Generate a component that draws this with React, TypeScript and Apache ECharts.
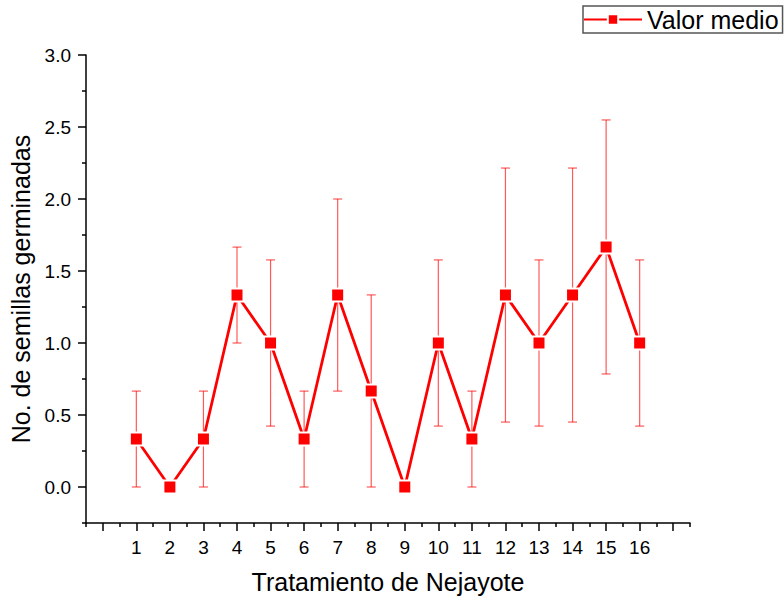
import React, { useEffect, useRef } from "react";
import * as echarts from "echarts";

// Treatment numbers on the x axis
const treatments = [1, 2, 3, 4, 5, 6, 7, 8, 9, 10, 11, 12, 13, 14, 15, 16];
// Mean number of germinated seeds per treatment
const meanValues = [0.333, 0, 0.333, 1.333, 1.0, 0.333, 1.333, 0.667, 0, 1.0, 0.333, 1.333, 1.0, 1.333, 1.667, 1.0];
// Standard error of each mean (symmetric error bars)
const errorValues = [0.333, 0, 0.333, 0.333, 0.577, 0.333, 0.667, 0.667, 0, 0.577, 0.333, 0.882, 0.577, 0.882, 0.882, 0.577];

// Axis ticks
const xMajorTicks = [0, 1, 2, 3, 4, 5, 6, 7, 8, 9, 10, 11, 12, 13, 14, 15, 16, 17];
const xMinorTicks = [-0.5, 0.5, 1.5, 2.5, 3.5, 4.5, 5.5, 6.5, 7.5, 8.5, 9.5, 10.5, 11.5, 12.5, 13.5, 14.5, 15.5, 16.5, 17.5];
const xTickLabels = treatments;
const yMajorTicks = [0, 0.5, 1.0, 1.5, 2.0, 2.5, 3.0];
const yMinorTicks = [-0.25, 0.25, 0.75, 1.25, 1.75, 2.25, 2.75];

const FONT = '"Liberation Sans", Arial, sans-serif';
const RED = "#ff0000";

export default function App() {
  const ref = useRef<HTMLDivElement>(null);

  useEffect(() => {
    if (!ref.current) return;
    const chart = echarts.init(ref.current, null, { renderer: "svg" });

    const lineData = treatments.map((t, i) => [t, meanValues[i]]);
    const errData = treatments.map((t, i) => [t, meanValues[i] - errorValues[i], meanValues[i] + errorValues[i]]);

    const axisLine = { show: true, onZero: false, lineStyle: { color: "#000", width: 1.5 } };
    const tickStyle = { color: "#000", width: 1.5 };

    chart.setOption({
      animation: false,
      backgroundColor: "#fff",
      textStyle: { fontFamily: FONT },
      grid: { left: 86, top: 55, width: 604, height: 468, containLabel: false },
      legend: {
        left: 583,
        top: 6,
        padding: [1, 4, 1, 0],
        borderColor: "#555",
        borderWidth: 1.5,
        itemWidth: 58,
        itemHeight: 13,
        itemGap: 4,
        textStyle: { fontFamily: FONT, fontSize: 25, color: "#000" },
        data: ["Valor medio"],
      },
      xAxis: [
        {
          type: "value",
          min: -0.5,
          max: 17.5,
          position: "bottom",
          name: "Tratamiento de Nejayote",
          nameLocation: "middle",
          nameGap: 46,
          nameTextStyle: { fontFamily: FONT, fontSize: 25, color: "#000" },
          axisLine,
          splitLine: { show: false },
          axisTick: { show: true, customValues: xMajorTicks, length: 8, lineStyle: tickStyle },
          axisLabel: { show: true, customValues: xTickLabels, margin: 15, fontSize: 19, color: "#000", fontFamily: FONT },
        },
        {
          type: "value",
          min: -0.5,
          max: 17.5,
          position: "bottom",
          axisLine: { show: false, onZero: false },
          splitLine: { show: false },
          axisTick: { show: true, customValues: xMinorTicks, length: 4, lineStyle: tickStyle },
          axisLabel: { show: false },
        },
      ],
      yAxis: [
        {
          type: "value",
          min: -0.25,
          max: 3,
          position: "left",
          name: "No. de semillas germinadas",
          nameLocation: "middle",
          nameGap: 48,
          nameTextStyle: { fontFamily: FONT, fontSize: 25, color: "#000" },
          axisLine,
          splitLine: { show: false },
          axisTick: { show: true, customValues: yMajorTicks, length: 8, lineStyle: tickStyle },
          axisLabel: {
            show: true,
            customValues: yMajorTicks,
            margin: 15,
            fontSize: 19,
            color: "#000",
            fontFamily: FONT,
            formatter: (v: number) => v.toFixed(1),
          },
        },
        {
          type: "value",
          min: -0.25,
          max: 3,
          position: "left",
          axisLine: { show: false, onZero: false },
          splitLine: { show: false },
          axisTick: { show: true, customValues: yMinorTicks, length: 4, lineStyle: tickStyle },
          axisLabel: { show: false },
        },
      ],
      series: [
        {
          type: "custom",
          name: "error",
          xAxisIndex: 0,
          yAxisIndex: 0,
          z: 1,
          silent: true,
          encode: { x: 0, y: [1, 2] },
          data: errData,
          renderItem: (_params: any, api: any) => {
            const x = api.value(0);
            const lo = api.coord([x, api.value(1)]);
            const hi = api.coord([x, api.value(2)]);
            const cap = 4.5;
            const style = { stroke: "rgba(255,0,0,0.65)", lineWidth: 1.2 };
            return {
              type: "group",
              children: [
                { type: "line", shape: { x1: lo[0], y1: lo[1], x2: hi[0], y2: hi[1] }, style },
                { type: "line", shape: { x1: hi[0] - cap, y1: hi[1], x2: hi[0] + cap, y2: hi[1] }, style },
                { type: "line", shape: { x1: lo[0] - cap, y1: lo[1], x2: lo[0] + cap, y2: lo[1] }, style },
              ],
            };
          },
        },
        {
          type: "line",
          name: "Valor medio",
          xAxisIndex: 0,
          yAxisIndex: 0,
          z: 3,
          data: lineData,
          symbol: "rect",
          symbolSize: 13,
          lineStyle: { color: RED, width: 2.8 },
          itemStyle: { color: RED, borderColor: "#fff", borderWidth: 2 },
        },
      ],
    });

    return () => chart.dispose();
  }, []);

  return (
    <div
      ref={ref}
      style={{ position: "fixed", left: 0, top: 0, width: 784, height: 599, background: "#fff" }}
    />
  );
}
